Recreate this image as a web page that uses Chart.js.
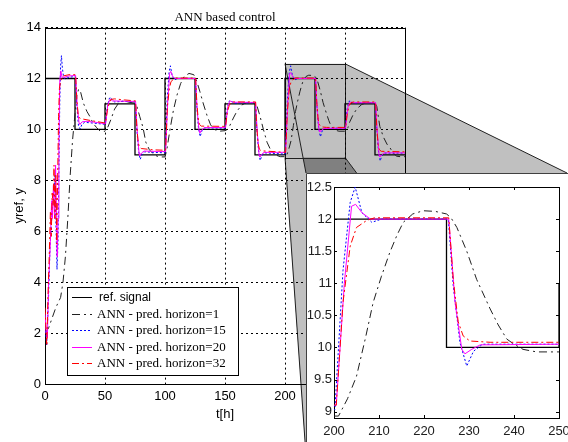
<!DOCTYPE html>
<html lang="en">
<head>
  <meta charset="UTF-8">
  <title>ANN based control</title>
  <script src="https://cdn.jsdelivr.net/npm/chart.js@4"></script>
  <style>
    html, body { margin: 0; padding: 0; background: #fff; }
    #wrap { position: relative; width: 568px; height: 442px; overflow: hidden; }
    #mainChart { position: absolute; left: 0; top: 0; }
    #insetChart { position: absolute; left: 306px; top: 173px; }
  </style>
</head>
<body>
  <div id="wrap">
    <canvas id="mainChart" width="568" height="442" style="width:568px;height:442px"></canvas>
    <canvas id="insetChart" width="262" height="269" style="width:262px;height:269px"></canvas>
  </div>

  <script>
    // reference signal (value holds until the next time)
    const refT = [0, 25, 50, 75, 100, 125, 150, 175, 200, 225, 250, 275, 300];
    const refY = [12, 10, 11, 9, 12, 10, 11, 9, 12, 10, 11, 9, 9];

    // ANN - pred. horizon=1  [t, y]
    const h1 = [[0,2.0],[3,2.2],[6,2.6],[9,3.0],[11,3.2],[13,3.4],[15,4.0],[17,5.0],[19,6.5],[21,8.2],[23,9.6],[25,10.6],[26.5,11.3],[28,11.58],[29.5,11.5],[32,11.03],[35,10.7],[37.5,10.5],[40,10.25],[43,10.07],[46,9.93],[50,9.93],
      [52,10.05],[55,10.4],[58,10.8],[62,11.08],[66,11.12],[70,11.07],[75,11.03],[76.5,10.92],[79,10.5],[81.7,10.07],[84,9.5],[87,9.2],[91,9.0],[95,8.92],[100,8.92],
      [101.5,9.2],[104,9.95],[107,10.75],[110,11.35],[113,11.8],[116,12.08],[120,12.2],[124,12.15],[126.4,11.9],[129,11.5],[132,11.0],[135,10.55],[138,10.18],[141,10.0],[145,9.93],[150,9.95],
      [152,10.0],[154,10.15],[157,10.45],[160,10.72],[164,10.96],[168,11.06],[172,11.06],[175,11.03],[176.5,10.95],[179,10.55],[182,10.0],[185,9.5],[188,9.2],[192,9.0],[196,8.93],[201,8.93],
      [203,9.2],[205,9.55],[207,10.15],[208.7,10.7],[210.5,11.1],[212.4,11.48],[214,11.75],[215.4,11.95],[217.5,12.08],[219.8,12.13],[222.5,12.12],[225,12.08],[226,12.02],[227.3,11.87],[229.5,11.5],[231.7,11.06],[234.7,10.6],[236.5,10.35],[238.4,10.13],[240,10.05],[242,9.97],[245,9.93],[250,9.93],
      [252.5,10.08],[254,10.3],[257,10.6],[260,10.82],[264,10.98],[268,11.05],[272,11.05],[275,11.03],[276.5,10.9],[279,10.12],[282,9.7],[285,9.42],[287.5,9.28],[290,9.08],[293,8.95],[296,8.93],[300,8.93]];

    // ANN - pred. horizon=15
    const h15 = [[0,2.4],[1.4,1.5],[3,3.5],[4.2,5.4],[6,6.8],[7.5,7.6],[8.3,8.2],[9,6.5],[10,4.5],[10.8,5.5],[11.5,8.0],[12.3,11.0],[13,12.5],[13.7,12.9],[14.5,12.4],[15.5,12.05],[17,11.98],[20,12.05],[25.3,12.08],
      [26.4,11.0],[27.9,10.15],[29.3,10.02],[30.8,10.2],[33,10.28],[40,10.25],[50.3,10.2],
      [51.8,10.85],[53.4,11.2],[54.5,11.27],[56,11.15],[58,11.08],[65,11.1],[75.3,11.08],
      [76.4,10.1],[77.9,9.2],[79.3,8.82],[80.8,9.0],[83,9.12],[90,9.1],[100.3,9.08],
      [101.8,11.2],[103.4,12.25],[104.5,12.5],[106,12.1],[108,11.95],[110.5,12.0],[125.3,12.0],
      [126.4,10.95],[127.9,10.05],[129.3,9.72],[130.8,9.95],[133,10.06],[150.3,10.05],
      [151.8,10.8],[153.4,11.1],[154.5,11.15],[156,11.08],[158,11.03],[175.3,11.05],
      [176.4,10.1],[177.9,9.2],[179.3,8.78],[180.8,8.98],[183,9.08],[200.2,9.03],
      [202,11.2],[203.6,12.26],[204.7,12.5],[206.2,12.1],[208.4,11.95],[210.6,12.0],[225.4,12.0],
      [226.5,10.96],[228,10.07],[229.5,9.71],[231,9.94],[233,10.05],[250.3,10.05],
      [251.8,10.8],[253.4,11.1],[254.5,11.13],[256,11.06],[258,11.04],[275.3,11.05],
      [276.4,10.1],[277.9,9.15],[279.3,8.76],[280.8,8.98],[283,9.07],[300,9.07]];

    // ANN - pred. horizon=20
    const h20 = [[0,2.8],[1,2.0],[2,1.8],[3,4.0],[4.5,5.6],[5.5,7.2],[6.2,6.5],[7,7.8],[8,6.5],[8.8,8.6],[9.5,7.0],[10.2,5.0],[10.9,6.5],[11.6,9.5],[12.3,11.9],[13.2,12.3],[14.2,12.05],[16,12.05],[20,12.1],[25.5,12.12],
      [26.9,10.9],[28.4,10.25],[29.1,10.2],[31,10.3],[35,10.32],[42,10.28],[50.5,10.22],
      [52.3,10.95],[53.9,11.17],[54.8,11.18],[56.2,11.12],[75.5,11.1],
      [76.9,9.9],[78.4,9.05],[79.1,8.97],[80.6,9.08],[82.5,9.15],[100.5,9.13],
      [102.3,11.1],[103.9,12.2],[104.8,12.28],[106.2,12.1],[108.1,12.0],[125.5,12.0],
      [126.9,10.7],[128.4,9.95],[129.1,9.87],[130.6,9.97],[132.5,10.07],[150.5,10.08],
      [152.3,10.9],[153.9,11.1],[154.8,11.11],[156.2,11.07],[175.5,11.06],
      [176.9,9.9],[178.4,9.0],[179.1,8.92],[180.6,9.02],[182.5,9.1],[200.5,9.1],
      [202.3,11.0],[203.9,12.2],[204.8,12.23],[206.2,12.1],[208.1,12.0],[225.5,12.0],
      [226.9,10.7],[228.4,9.97],[229.1,9.9],[230.6,9.97],[232.5,10.04],[250.5,10.05],
      [252.3,10.85],[253.9,11.06],[254.8,11.07],[256.2,11.05],[275.5,11.05],
      [276.9,9.9],[278.4,9.0],[279.1,8.92],[280.6,9.0],[282.5,9.08],[300,9.08]];

    // ANN - pred. horizon=32
    const h32 = [[0,3.0],[0.8,2.2],[1.5,1.5],[2.5,3.5],[3.5,5.0],[4.5,6.8],[5.2,5.8],[6,7.5],[6.8,7.0],[7.5,8.6],[8.3,6.5],[9,8.2],[9.8,5.5],[10.5,8.0],[11.3,10.5],[12,11.6],[13,11.9],[15,12.1],[20,12.15],[25.5,12.15],
      [26.5,11.2],[27.6,10.6],[28.7,10.45],[30.2,10.42],[38,10.35],[50.5,10.25],
      [52,10.75],[53.6,11.05],[55,11.18],[58,11.2],[66,11.16],[75.5,11.12],
      [76.5,10.1],[77.6,9.5],[78.7,9.3],[80.2,9.25],[90,9.2],[100.5,9.18],
      [102,10.9],[103.6,11.6],[105,11.88],[107.3,11.98],[109,12.02],[125.5,12.02],
      [126.5,11.05],[127.6,10.45],[128.7,10.2],[130.2,10.13],[150.5,10.12],
      [152,10.7],[153.6,10.95],[155,11.05],[157,11.08],[175.5,11.08],
      [176.5,10.05],[177.6,9.45],[178.7,9.22],[180.2,9.16],[200.5,9.1],
      [202,10.7],[203.6,11.58],[205,11.87],[207.3,11.98],[209,12.02],[225.5,12.02],
      [226.5,11.06],[227.6,10.4],[228.7,10.18],[230.2,10.1],[234.7,10.08],[250.5,10.08],
      [252,10.65],[253.6,10.95],[255,11.05],[257,11.08],[275.5,11.08],
      [276.5,10.05],[277.6,9.4],[278.7,9.2],[280.2,9.14],[300,9.12]];

    const seriesLabels = ['ref. signal', 'ANN - pred. horizon=1', 'ANN - pred. horizon=15', 'ANN - pred. horizon=20', 'ANN - pred. horizon=32'];

    // axes
    const mainXTicks = [0, 50, 100, 150, 200, 250, 300];
    const mainYTicks = [0, 2, 4, 6, 8, 10, 12, 14];
    const insetXTicks = [200, 210, 220, 230, 240, 250];
    const insetYTicks = [9, 9.5, 10, 10.5, 11, 11.5, 12, 12.5];
    const zoomT = [200, 250];
    const zoomY = [8.9, 12.58];

    const SANS = "'Liberation Sans', Arial, sans-serif";
    const SERIF = "'Liberation Serif', 'Times New Roman', serif";
    Chart.defaults.font.family = SANS;
    Chart.defaults.color = '#000';

    const xy = pts => pts.map(p => ({ x: p[0], y: p[1] }));

    function makeDatasets() {
      return [
        { label: seriesLabels[0], data: refT.map((t, i) => ({ x: t, y: refY[i] })), stepped: 'before',
          borderColor: '#000', borderWidth: 1.3, order: 5 },
        { label: seriesLabels[1], data: xy(h1), borderColor: '#202020', borderWidth: 1, borderDash: [8, 4, 2, 4], order: 4 },
        { label: seriesLabels[2], data: xy(h15), borderColor: '#0000ff', borderWidth: 1, borderDash: [2, 2], order: 3 },
        { label: seriesLabels[3], data: xy(h20), borderColor: '#ff00ff', borderWidth: 1, order: 2 },
        { label: seriesLabels[4], data: xy(h32), borderColor: '#ff0000', borderWidth: 1, borderDash: [7, 3, 2, 3], order: 1 }
      ];
    }

    // plot frame + inward ticks
    const framePlugin = {
      id: 'frame',
      beforeDatasetsDraw(chart, args, opts) {
        const { ctx, chartArea: a, scales: { x, y } } = chart;
        ctx.save();
        ctx.strokeStyle = '#000';
        ctx.lineWidth = 1;
        ctx.strokeRect(Math.round(a.left) + 0.5, Math.round(a.top) + 0.5, Math.round(a.right - a.left), Math.round(a.bottom - a.top));
        const tl = opts.tick || 0;
        if (tl) {
          ctx.beginPath();
          x.ticks.forEach(t => {
            const px = Math.round(x.getPixelForValue(t.value)) + 0.5;
            ctx.moveTo(px, a.bottom); ctx.lineTo(px, a.bottom - tl);
            ctx.moveTo(px, a.top); ctx.lineTo(px, a.top + tl);
          });
          y.ticks.forEach(t => {
            const py = Math.round(y.getPixelForValue(t.value)) + 0.5;
            ctx.moveTo(a.left, py); ctx.lineTo(a.left + tl, py);
            ctx.moveTo(a.right, py); ctx.lineTo(a.right - tl, py);
          });
          ctx.stroke();
        }
        ctx.restore();
      }
    };

    // gray zoom projection from the box to the inset
    const zoomPlugin = {
      id: 'zoomBox',
      beforeDraw(chart) {
        const { ctx, scales: { x, y } } = chart;
        const x1 = x.getPixelForValue(zoomT[0]), x2 = x.getPixelForValue(zoomT[1]);
        const y1 = y.getPixelForValue(zoomY[1]), y2 = y.getPixelForValue(zoomY[0]);
        const iL = 306, iR = 567, iT = 173, iB = 455;
        const poly = (pts, fill) => {
          ctx.beginPath();
          ctx.moveTo(pts[0][0], pts[0][1]);
          pts.slice(1).forEach(p => ctx.lineTo(p[0], p[1]));
          ctx.closePath();
          ctx.fillStyle = fill;
          ctx.fill();
        };
        ctx.save();
        poly([[x1, y1], [x2, y1], [iR, iT], [iL, iT]], '#c0c0c0');
        poly([[x1, y2], [x2, y2], [iR, iB], [iL, iB]], '#808080');
        poly([[x1, y1], [x1, y2], [iL, iB], [iL, iT]], '#c0c0c0');
        ctx.strokeStyle = '#202020';
        ctx.lineWidth = 1;
        ctx.beginPath();
        ctx.moveTo(x1, y1); ctx.lineTo(iL, iT);
        ctx.moveTo(x2, y1); ctx.lineTo(iR, iT);
        ctx.moveTo(x1, y2); ctx.lineTo(iL, iB);
        ctx.moveTo(x2, y2); ctx.lineTo(iR, iB);
        ctx.stroke();
        ctx.strokeRect(Math.round(x1) + 0.5, Math.round(y1) + 0.5, Math.round(x2 - x1), Math.round(y2 - y1));
        ctx.restore();
      }
    };

    const legendPlugin = {
      id: 'boxLegend',
      afterDraw(chart) {
        const { ctx } = chart;
        const bx = 67, by = 287, bw = 171, bh = 88;
        ctx.save();
        ctx.fillStyle = '#fff';
        ctx.fillRect(bx, by, bw, bh);
        ctx.strokeStyle = '#000';
        ctx.lineWidth = 1;
        ctx.strokeRect(bx + 0.5, by + 0.5, bw, bh);
        chart.data.datasets.forEach((ds, i) => {
          const yy = Math.round(by + 10 + i * 16.5) + 0.5;
          ctx.strokeStyle = ds.borderColor;
          ctx.lineWidth = 1;
          ctx.setLineDash(ds.borderDash || []);
          ctx.beginPath();
          ctx.moveTo(72, yy); ctx.lineTo(92, yy);
          ctx.stroke();
          ctx.setLineDash([]);
          ctx.fillStyle = '#000';
          ctx.textBaseline = 'middle';
          ctx.font = i === 0 ? '12px ' + SANS : '13px ' + SERIF;
          ctx.fillText(ds.label, i === 0 ? 99 : 97, yy);
        });
        ctx.restore();
      }
    };

    const fixX = (h) => (s) => { s.height = h; s.paddingLeft = 0; s.paddingRight = 0; };
    const fixY = (w) => (s) => { s.width = w; s.paddingTop = 0; s.paddingBottom = 0; };
    const plain = v => String(v);

    new Chart(document.getElementById('mainChart'), {
      type: 'line',
      data: { datasets: makeDatasets() },
      plugins: [zoomPlugin, framePlugin, legendPlugin],
      options: {
        responsive: false,
        animation: false,
        events: [],
        elements: { point: { radius: 0 }, line: { tension: 0 } },
        layout: { padding: { left: 0, top: 0, right: 163, bottom: 0 } },
        scales: {
          x: {
            type: 'linear', min: 0, max: 300,
            afterBuildTicks: s => { s.ticks = mainXTicks.map(v => ({ value: v })); },
            afterFit: fixX(58),
            ticks: { padding: 5, font: { size: 13 }, color: '#000', maxRotation: 0, callback: plain },
            grid: { color: '#000', lineWidth: 1, drawTicks: false },
            border: { display: true, color: '#000', dash: [2, 3] },
            title: { display: true, text: 't[h]', font: { size: 13 }, color: '#000', padding: { top: 0, bottom: 20 } }
          },
          y: {
            type: 'linear', min: 0, max: 14,
            afterBuildTicks: s => { s.ticks = mainYTicks.map(v => ({ value: v })); },
            afterFit: fixY(45),
            ticks: { padding: 4, font: { size: 13 }, color: '#000', callback: plain },
            grid: { color: '#000', lineWidth: 1, drawTicks: false },
            border: { display: true, color: '#000', dash: [2, 3] },
            title: { display: true, text: 'yref, y', font: { size: 13 }, color: '#000', padding: { top: 12, bottom: 0 } }
          }
        },
        plugins: {
          legend: { display: false },
          tooltip: { enabled: false },
          title: {
            display: true, text: 'ANN based control', fullSize: false,
            font: { family: SERIF, size: 13, weight: 'normal' }, color: '#000',
            padding: { top: 10, bottom: 2 }
          }
        }
      }
    });

    const insetBg = {
      id: 'insetBg',
      beforeDraw(chart) {
        const { ctx, width, height } = chart;
        ctx.save();
        ctx.fillStyle = '#fff';
        ctx.fillRect(0, 0, width, height);
        ctx.strokeStyle = '#404040';
        ctx.lineWidth = 1;
        ctx.beginPath();
        ctx.moveTo(0.5, height); ctx.lineTo(0.5, 0.5); ctx.lineTo(width, 0.5);
        ctx.stroke();
        ctx.restore();
      }
    };

    new Chart(document.getElementById('insetChart'), {
      type: 'line',
      data: { datasets: makeDatasets() },
      plugins: [insetBg, framePlugin],
      options: {
        responsive: false,
        animation: false,
        events: [],
        elements: { point: { radius: 0 }, line: { tension: 0 } },
        layout: { padding: { left: 0, top: 14, right: 9, bottom: 0 } },
        scales: {
          x: {
            type: 'linear', min: 200, max: 250,
            afterBuildTicks: s => { s.ticks = insetXTicks.map(v => ({ value: v })); },
            afterFit: fixX(24),
            ticks: { padding: 6, font: { size: 13 }, color: '#202020', maxRotation: 0, callback: plain },
            grid: { display: false, drawTicks: false },
            border: { display: true, color: '#000' }
          },
          y: {
            type: 'linear', min: 8.9, max: 12.5,
            afterBuildTicks: s => { s.ticks = insetYTicks.map(v => ({ value: v })); },
            afterFit: fixY(28),
            ticks: { padding: 2, font: { size: 13 }, color: '#202020', callback: plain },
            grid: { display: false, drawTicks: false },
            border: { display: true, color: '#000' }
          }
        },
        plugins: {
          legend: { display: false },
          tooltip: { enabled: false },
          title: { display: false },
          frame: { tick: 3 }
        }
      }
    });
  </script>
</body>
</html>
